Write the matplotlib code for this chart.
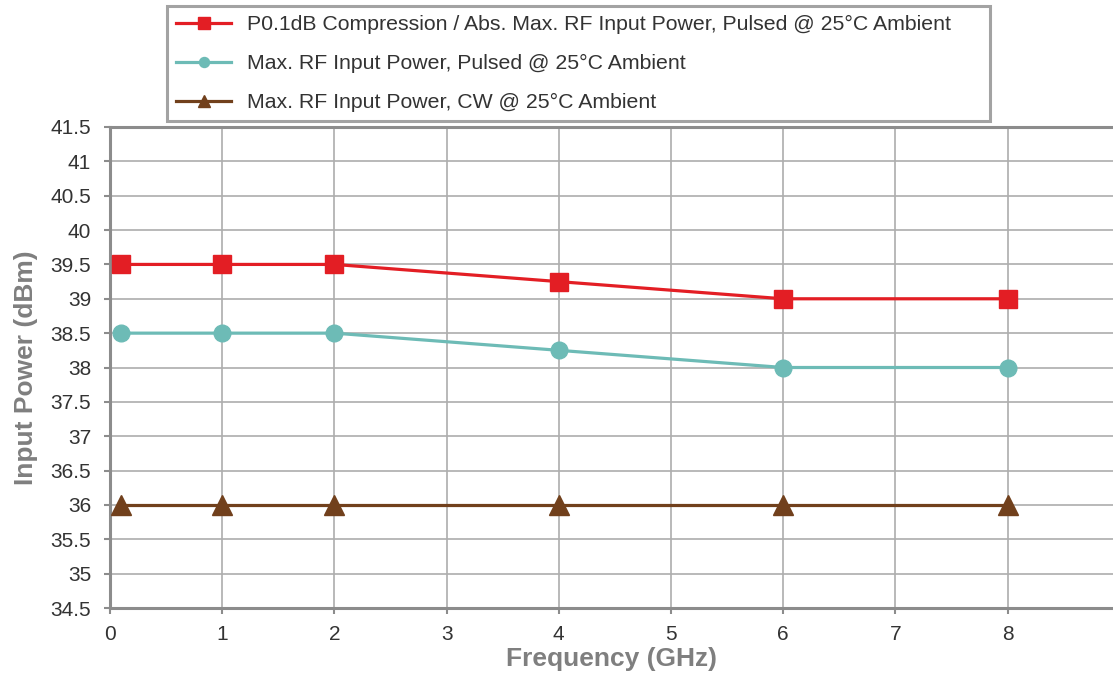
import matplotlib.pyplot as plt

# data
freq = [0.1, 1, 2, 4, 6, 8]
p01db = [39.5, 39.5, 39.5, 39.25, 39.0, 39.0]
max_pulsed = [38.5, 38.5, 38.5, 38.25, 38.0, 38.0]
max_cw = [36.0, 36.0, 36.0, 36.0, 36.0, 36.0]

labels = [
    "P0.1dB Compression / Abs. Max. RF Input Power, Pulsed @ 25°C Ambient",
    "Max. RF Input Power, Pulsed @ 25°C Ambient",
    "Max. RF Input Power, CW @ 25°C Ambient",
]

plt.rcParams['font.family'] = ['Liberation Sans', 'DejaVu Sans']

W, H = 1113, 675
fig = plt.figure(figsize=(W / 100, H / 100), dpi=100)
ax = fig.add_axes([110 / W, 1 - 608 / H, 1 - 110 / W, (608 - 127) / H])

red, teal, brown = "#E31E24", "#6DBBB6", "#71401C"
ax.plot(freq, p01db, color=red, lw=2.3, marker="s", ms=13.5, label=labels[0], zorder=3)
ax.plot(freq, max_pulsed, color=teal, lw=2.3, marker="o", ms=12, label=labels[1], zorder=3)
ax.plot(freq, max_cw, color=brown, lw=2.3, marker="^", ms=14, label=labels[2], zorder=3)

ax.set_xlim(0, 8.94)
ax.set_ylim(34.5, 41.5)
ax.set_xticks(range(0, 9))
yt = [34.5 + 0.5 * i for i in range(15)]
ax.set_yticks(yt)
ax.set_yticklabels([f"{v:g}" for v in yt])
ax.grid(True, color="#ADADAD", lw=1.2)
ax.set_axisbelow(True)

for s in ["left", "bottom", "top"]:
    ax.spines[s].set_color("#8C8C8C")
    ax.spines[s].set_linewidth(2.2)
ax.spines["right"].set_visible(False)
ax.tick_params(colors="#8C8C8C", labelcolor="#333333", labelsize=15, length=4.5, width=1.5)
ax.tick_params(axis="y", pad=9)
ax.tick_params(axis="x", pad=8)

ax.set_xlabel("Frequency (GHz)", fontsize=19, fontweight="bold", color="#7F7F7F", labelpad=2)
ax.set_ylabel("Input Power (dBm)", fontsize=19, fontweight="bold", color="#7F7F7F", labelpad=9)

leg = fig.legend(handles=ax.get_lines(), labels=labels, loc="upper left",
                 bbox_to_anchor=(167 / W, 1 - 120 / H, (990 - 167) / W, 114 / H),
                 mode="expand", fontsize=15.3, frameon=True,
                 fancybox=False, edgecolor="#8C8C8C", markerscale=0.6,
                 handlelength=2.6, borderpad=0.42, labelspacing=0.95, handletextpad=0.75,
                 borderaxespad=0)
leg.get_frame().set_linewidth(2.2)
for t in leg.get_texts():
    t.set_color("#333333")

fig.savefig("out.png", dpi=100)
